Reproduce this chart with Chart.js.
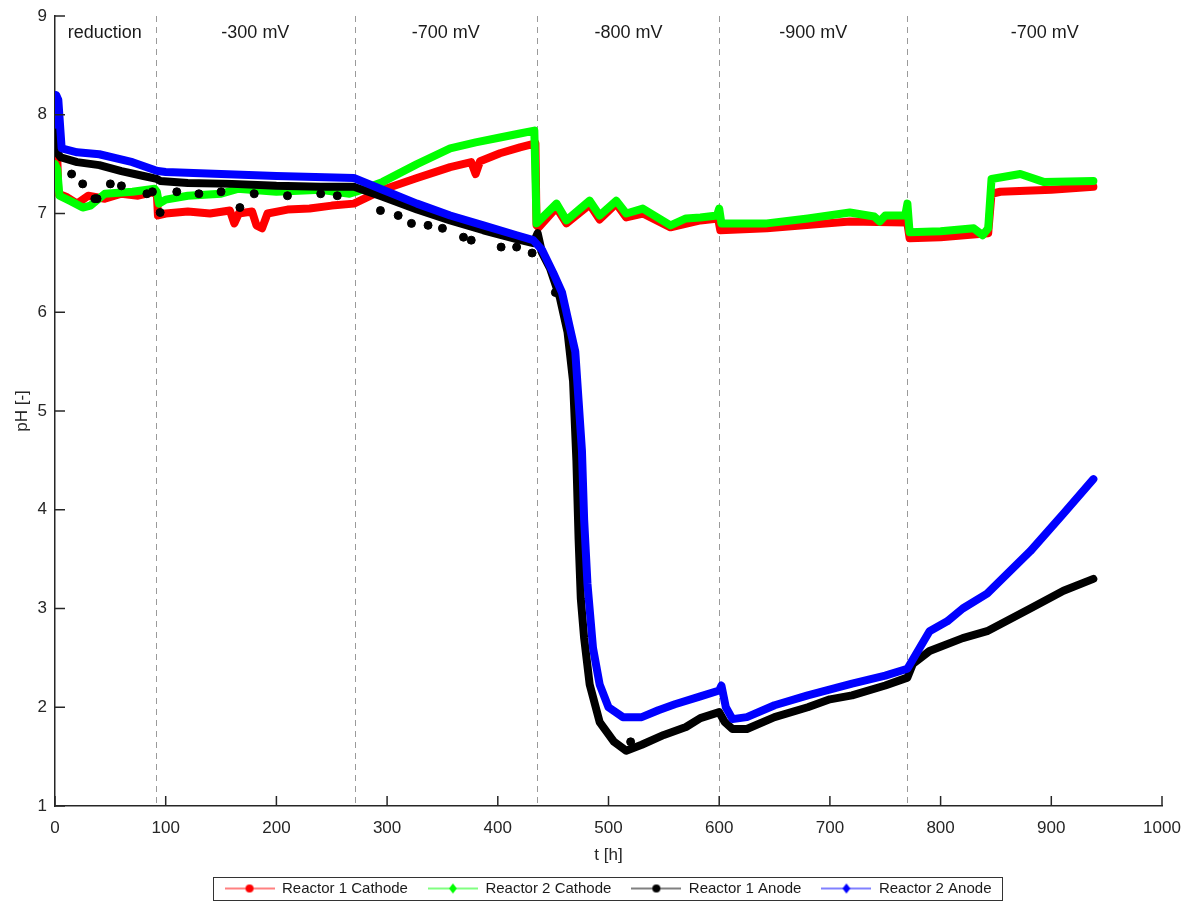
<!DOCTYPE html>
<html>
<head>
<meta charset="utf-8">
<title>pH in reactors</title>
<script src="https://cdn.jsdelivr.net/npm/chart.js@4.4.0/dist/chart.umd.min.js"></script>
<style>
  html, body { margin: 0; padding: 0; background: #fff; }
  #wrap { width: 1189px; height: 903px; }
</style>
</head>
<body>
<div id="wrap"><canvas id="chart" width="1189" height="903"></canvas></div>
<script>
// time [h] and pH
var r1CathodeT  = [0, 1, 2, 3, 10, 20, 30, 45, 60, 75, 90, 92, 93, 100, 120, 140, 158, 162, 166, 178, 182, 187, 192, 210, 230, 250, 270, 296, 327, 357, 376, 380, 384, 402, 420, 434, 435, 437, 453, 462, 483, 492, 507, 516, 531, 556, 583, 599, 601, 643, 718, 768, 770, 772, 800, 843, 846, 854, 900, 938];
var r1CathodePH = [7.9, 8.1, 7.6, 7.2, 7.17, 7.1, 7.18, 7.15, 7.2, 7.18, 7.22, 7.2, 6.98, 7.0, 7.02, 7.0, 7.03, 6.9, 7.0, 7.02, 6.88, 6.85, 7.0, 7.04, 7.05, 7.08, 7.1, 7.24, 7.36, 7.47, 7.52, 7.4, 7.53, 7.61, 7.67, 7.71, 6.88, 6.86, 7.06, 6.9, 7.09, 6.94, 7.1, 6.96, 7.0, 6.86, 6.93, 6.95, 6.83, 6.85, 6.92, 6.91, 6.9, 6.75, 6.76, 6.8, 7.2, 7.22, 7.24, 7.27];

var r2CathodeT  = [0, 2, 4, 15, 25, 32, 45, 70, 90, 92, 94, 100, 120, 150, 165, 200, 240, 266, 272, 296, 327, 357, 380, 402, 420, 433, 435, 453, 462, 483, 492, 507, 516, 531, 556, 570, 583, 598, 600, 602, 643, 680, 718, 740, 745, 750, 768, 770, 772, 800, 830, 838, 843, 846, 872, 893, 938];
var r2CathodePH = [7.5, 7.45, 7.18, 7.12, 7.06, 7.08, 7.2, 7.22, 7.25, 7.22, 7.1, 7.14, 7.18, 7.2, 7.25, 7.22, 7.24, 7.2, 7.22, 7.32, 7.5, 7.66, 7.72, 7.77, 7.81, 7.84, 6.9, 7.1, 6.93, 7.13, 6.98, 7.13, 7.0, 7.05, 6.88, 6.95, 6.96, 6.98, 7.05, 6.9, 6.9, 6.95, 7.01, 6.97, 6.92, 6.98, 6.98, 7.1, 6.81, 6.82, 6.85, 6.78, 6.85, 7.35, 7.4, 7.32, 7.33];

var r1AnodeT  = [0, 1, 3, 5, 20, 40, 60, 80, 92, 95, 120, 160, 200, 240, 270, 296, 327, 357, 387, 417, 432, 436, 440, 447, 456, 463, 468, 471, 473, 475, 478, 483, 492, 505, 516, 530, 550, 570, 583, 600, 605, 612, 625, 650, 680, 700, 720, 750, 770, 775, 790, 820, 842, 881, 911, 938];
var r1AnodePH = [7.95, 8.0, 7.6, 7.57, 7.52, 7.49, 7.43, 7.38, 7.35, 7.33, 7.31, 7.3, 7.28, 7.27, 7.27, 7.17, 7.04, 6.93, 6.83, 6.74, 6.7, 6.8, 6.6, 6.45, 6.15, 5.8, 5.3, 4.5, 3.7, 3.1, 2.7, 2.23, 1.85, 1.65, 1.56, 1.62, 1.72, 1.8, 1.89, 1.95, 1.85, 1.78, 1.78, 1.9, 2.0, 2.08, 2.12, 2.22, 2.3, 2.44, 2.57, 2.7, 2.77, 3.0, 3.18, 3.3];

// scattered Reactor 1 Anode readings lying off the main trace
var r1AnodeOutT  = [15, 25, 36, 38, 50, 60, 83, 88, 95, 110, 130, 150, 167, 180, 210, 240, 255, 294, 310, 322, 337, 350, 369, 376, 403, 417, 431, 452, 520];
var r1AnodeOutPH = [7.4, 7.3, 7.15, 7.15, 7.3, 7.28, 7.2, 7.22, 7.01, 7.22, 7.2, 7.22, 7.06, 7.2, 7.18, 7.2, 7.18, 7.03, 6.98, 6.9, 6.88, 6.85, 6.76, 6.73, 6.66, 6.66, 6.6, 6.2, 1.65];

var r2AnodeT  = [0, 1, 3, 6, 20, 40, 70, 90, 93, 100, 150, 200, 270, 296, 327, 357, 387, 417, 432, 440, 450, 458, 465, 470, 473, 476, 478, 481, 486, 492, 500, 513, 530, 545, 560, 583, 600, 602, 606, 612, 625, 650, 680, 720, 750, 770, 790, 806, 820, 842, 881, 911, 938];
var r2AnodePH = [7.9, 8.2, 8.15, 7.66, 7.62, 7.6, 7.52, 7.44, 7.43, 7.42, 7.4, 7.38, 7.36, 7.24, 7.1, 6.98, 6.88, 6.78, 6.73, 6.63, 6.4, 6.2, 5.85, 5.6, 5.1, 4.6, 3.9, 3.25, 2.6, 2.23, 2.0, 1.9, 1.9, 1.97, 2.03, 2.11, 2.17, 2.22, 2.0, 1.88, 1.9, 2.02, 2.12, 2.24, 2.32, 2.39, 2.77, 2.87, 3.0, 3.15, 3.58, 3.96, 4.31];

var phaseT = [91, 271, 435, 600, 770];
var phaseLabels = ['reduction', '-300 mV', '-700 mV', '-800 mV', '-900 mV', '-700 mV'];
var phaseLabelT = [45, 181, 353, 518, 685, 894];

var xTicks = [0, 100, 200, 300, 400, 500, 600, 700, 800, 900, 1000];
var yTicks = [1, 2, 3, 4, 5, 6, 7, 8, 9];

var FONT = '"Liberation Sans", Arial, Helvetica, sans-serif';
var AXIS = '#262626';

function pts(t, v) {
    var out = [];
    for (var i = 0; i < t.length; i++) out.push({x: t[i], y: v[i]});
    return out;
}

// little "line + marker" pictures for the legend
function legendIcon(color, shape) {
    var c = document.createElement('canvas');
    c.width = 50; c.height = 14;
    var g = c.getContext('2d');
    g.strokeStyle = color; g.lineWidth = 1;
    g.beginPath(); g.moveTo(0, 7); g.lineTo(50, 7); g.stroke();
    g.fillStyle = color;
    g.beginPath();
    if (shape === 'circle') {
        g.arc(25, 7, 4, 0, Math.PI * 2);
    } else {
        g.moveTo(25, 2); g.lineTo(29, 7); g.lineTo(25, 12); g.lineTo(21, 7); g.closePath();
    }
    g.fill();
    return c;
}
var icons = [legendIcon('#ff0000', 'circle'), legendIcon('#00ff00', 'diamond'),
             legendIcon('#000000', 'circle'), legendIcon('#0000ff', 'diamond')];

var phasePlugin = {
    id: 'phases',
    beforeDatasetsDraw: function(chart) {
        var ctx = chart.ctx, a = chart.chartArea, xs = chart.scales.x;
        ctx.save();
        ctx.strokeStyle = '#9a9a9a';
        ctx.lineWidth = 1;
        ctx.setLineDash([6, 5]);
        phaseT.forEach(function(t) {
            var px = Math.round(xs.getPixelForValue(t)) + 0.5;
            ctx.beginPath(); ctx.moveTo(px, a.top); ctx.lineTo(px, a.bottom); ctx.stroke();
        });
        ctx.setLineDash([]);
        ctx.fillStyle = '#1a1a1a';
        ctx.font = '18px ' + FONT;
        ctx.textAlign = 'center';
        ctx.textBaseline = 'middle';
        phaseLabels.forEach(function(s, i) {
            ctx.fillText(s, xs.getPixelForValue(phaseLabelT[i]), a.top + 17);
        });
        ctx.restore();
    },
    afterLayout: function(chart) {
        // legend box sits a bit right of centre and lower in the original
        var lg = chart.legend;
        lg.left += 27; lg.right += 27;
        lg.top += 3; lg.bottom += 3;
    },
    afterDraw: function(chart) {
        var ctx = chart.ctx, a = chart.chartArea;
        ctx.save();
        // inward tick marks
        ctx.strokeStyle = AXIS;
        ctx.lineWidth = 1.5;
        yTicks.forEach(function(v) {
            var py = chart.scales.y.getPixelForValue(v);
            ctx.beginPath(); ctx.moveTo(a.left, py); ctx.lineTo(a.left + 10, py); ctx.stroke();
        });
        xTicks.forEach(function(v) {
            var px = chart.scales.x.getPixelForValue(v);
            ctx.beginPath(); ctx.moveTo(px, a.bottom); ctx.lineTo(px, a.bottom - 10); ctx.stroke();
        });
        // frame round the legend
        var lg = chart.legend;
        var w = lg.lineWidths ? lg.lineWidths[0] : 0;
        var cx = (lg.left + lg.right) / 2;
        var cy = lg.top + lg.options.labels.padding + (lg._itemHeight || 15) / 2;
        ctx.strokeStyle = '#333';
        ctx.lineWidth = 1;
        ctx.strokeRect(Math.round(cx - w / 2 - 2) + 0.5, Math.round(cy - 11.5) + 0.5, Math.round(w + 2), 23);
        ctx.restore();
    }
};

var ctx = document.getElementById('chart').getContext('2d');
var myChart = new Chart(ctx, {
    type: 'line',
    data: {
        datasets: [
            { label: 'Reactor 1 Cathode', data: pts(r1CathodeT, r1CathodePH), borderColor: '#ff0000', backgroundColor: '#ff0000', order: 5 },
            { label: 'Reactor 2 Cathode', data: pts(r2CathodeT, r2CathodePH), borderColor: '#00ff00', backgroundColor: '#00ff00', order: 4 },
            { label: 'Reactor 1 Anode', data: pts(r1AnodeT, r1AnodePH), borderColor: '#000000', backgroundColor: '#000000', order: 2 },
            { label: 'Reactor 2 Anode', data: pts(r2AnodeT, r2AnodePH), borderColor: '#0000ff', backgroundColor: '#0000ff', order: 1 },
            { label: 'r1 anode scatter', data: pts(r1AnodeOutT, r1AnodeOutPH), showLine: false, borderColor: '#000000', backgroundColor: '#000000', pointRadius: 4, order: 3 }
        ]
    },
    options: {
        responsive: false,
        devicePixelRatio: 1,
        animation: false,
        layout: { padding: { top: 16, right: 27, left: 0, bottom: 0 } },
        elements: {
            line: { borderWidth: 8, tension: 0, borderCapStyle: 'round', borderJoinStyle: 'round' },
            point: { radius: 0, hoverRadius: 0 }
        },
        plugins: {
            tooltip: { enabled: false },
            legend: {
                position: 'bottom',
                labels: {
                    usePointStyle: true,
                    pointStyleWidth: 50,
                    padding: 20,
                    color: '#1a1a1a',
                    font: { family: FONT, size: 15 },
                    generateLabels: function(chart) {
                        var items = Chart.defaults.plugins.legend.labels.generateLabels(chart);
                        items = items.filter(function(it) { return it.datasetIndex < 4; });
                        items.forEach(function(it) { it.pointStyle = icons[it.datasetIndex]; });
                        return items;
                    },
                    sort: function(a, b) { return a.datasetIndex - b.datasetIndex; }
                }
            }
        },
        scales: {
            x: {
                type: 'linear',
                min: 0, max: 1000,
                grid: { display: false, drawTicks: false },
                border: { display: true, color: AXIS, width: 1.5 },
                ticks: { stepSize: 100, padding: 12, color: AXIS, font: { family: FONT, size: 17 },
                         callback: function(v) { return String(v); } },
                title: { display: true, text: 't [h]', color: AXIS, font: { family: FONT, size: 17 }, padding: { top: 0, bottom: -8 } },
                afterFit: function(scale) { scale.height = 52; scale.paddingLeft = 0; scale.paddingRight = 0; }
            },
            y: {
                type: 'linear',
                min: 1, max: 9,
                grid: { display: false, drawTicks: false },
                border: { display: true, color: AXIS, width: 1.5 },
                ticks: { stepSize: 1, padding: 8, color: AXIS, font: { family: FONT, size: 17 } },
                title: { display: true, text: 'pH [-]', color: AXIS, font: { family: FONT, size: 17 }, padding: { top: 12, bottom: 12 } },
                afterFit: function(scale) { scale.width = 55; scale.paddingTop = 0; scale.paddingBottom = 0; }
            }
        }
    },
    plugins: [phasePlugin]
});
</script>
</body>
</html>
